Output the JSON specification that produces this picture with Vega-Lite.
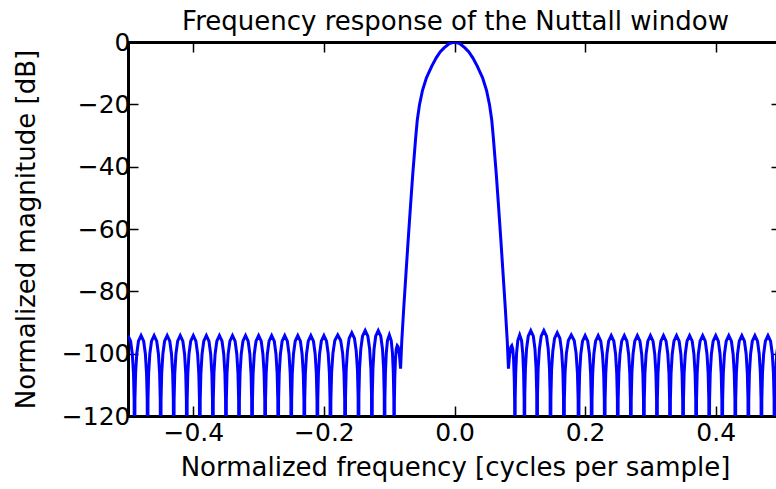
{
  "$schema": "https://vega.github.io/schema/vega-lite/v6.json",
  "width": 648,
  "height": 374,
  "autosize": {"type": "none"},
  "padding": {"left": 128, "top": 42, "right": 0, "bottom": 73},
  "background": "white",
  "config": {
    "view": {"stroke": null},
    "axis": {"domainColor": "black", "domainWidth": 3, "domainCap": "square", "tickColor": "black", "tickWidth": 1.5, "labelFont": "DejaVu Sans", "labelFontSize": 25, "labelColor": "black", "titleFont": "DejaVu Sans", "titleFontSize": 26, "titleFontWeight": "normal", "titleColor": "black", "grid": false}
  },
  "data": {"values": [
    {"f":-0.5,"db":-94.2},{"f":-0.496,"db":-96},{"f":-0.4934,"db":-100.1},{"f":-0.4916,"db":-106.3},{"f":-0.4906,"db":-114.7},{"f":-0.49,"db":-160},
    {"f":-0.4894,"db":-114.7},{"f":-0.4884,"db":-106.3},{"f":-0.4866,"db":-100.1},{"f":-0.484,"db":-96},{"f":-0.48,"db":-94.2},{"f":-0.476,"db":-96},{"f":-0.4734,"db":-100.1},{"f":-0.4716,"db":-106.3},{"f":-0.4706,"db":-114.7},{"f":-0.47,"db":-160},
    {"f":-0.4694,"db":-114.7},{"f":-0.4684,"db":-106.3},{"f":-0.4666,"db":-100.1},{"f":-0.464,"db":-96},{"f":-0.46,"db":-94.2},{"f":-0.456,"db":-96},{"f":-0.4534,"db":-100.1},{"f":-0.4516,"db":-106.3},{"f":-0.4506,"db":-114.7},{"f":-0.45,"db":-160},
    {"f":-0.4494,"db":-114.7},{"f":-0.4484,"db":-106.3},{"f":-0.4466,"db":-100.1},{"f":-0.444,"db":-96},{"f":-0.44,"db":-94.2},{"f":-0.436,"db":-96},{"f":-0.4334,"db":-100.1},{"f":-0.4316,"db":-106.3},{"f":-0.4306,"db":-114.7},{"f":-0.43,"db":-160},
    {"f":-0.4294,"db":-114.7},{"f":-0.4284,"db":-106.3},{"f":-0.4266,"db":-100.1},{"f":-0.424,"db":-96},{"f":-0.42,"db":-94.2},{"f":-0.416,"db":-96},{"f":-0.4134,"db":-100.1},{"f":-0.4116,"db":-106.3},{"f":-0.4106,"db":-114.7},{"f":-0.41,"db":-160},
    {"f":-0.4094,"db":-114.7},{"f":-0.4084,"db":-106.3},{"f":-0.4066,"db":-100.1},{"f":-0.404,"db":-96},{"f":-0.4,"db":-94.2},{"f":-0.396,"db":-96},{"f":-0.3934,"db":-100.1},{"f":-0.3916,"db":-106.3},{"f":-0.3906,"db":-114.7},{"f":-0.39,"db":-160},
    {"f":-0.3894,"db":-114.7},{"f":-0.3884,"db":-106.3},{"f":-0.3866,"db":-100.1},{"f":-0.384,"db":-96},{"f":-0.38,"db":-94.2},{"f":-0.376,"db":-96},{"f":-0.3734,"db":-100.1},{"f":-0.3716,"db":-106.3},{"f":-0.3706,"db":-114.7},{"f":-0.37,"db":-160},
    {"f":-0.3694,"db":-114.7},{"f":-0.3684,"db":-106.3},{"f":-0.3666,"db":-100.1},{"f":-0.364,"db":-96},{"f":-0.36,"db":-94.2},{"f":-0.356,"db":-96},{"f":-0.3534,"db":-100.1},{"f":-0.3516,"db":-106.3},{"f":-0.3506,"db":-114.7},{"f":-0.35,"db":-160},
    {"f":-0.3494,"db":-114.7},{"f":-0.3484,"db":-106.3},{"f":-0.3466,"db":-100.1},{"f":-0.344,"db":-96},{"f":-0.34,"db":-94.2},{"f":-0.336,"db":-96},{"f":-0.3334,"db":-100.1},{"f":-0.3316,"db":-106.3},{"f":-0.3306,"db":-114.7},{"f":-0.33,"db":-160},
    {"f":-0.3294,"db":-114.7},{"f":-0.3284,"db":-106.3},{"f":-0.3266,"db":-100.1},{"f":-0.324,"db":-96},{"f":-0.32,"db":-94.2},{"f":-0.316,"db":-96},{"f":-0.3134,"db":-100.1},{"f":-0.3116,"db":-106.3},{"f":-0.3106,"db":-114.7},{"f":-0.31,"db":-160},
    {"f":-0.3094,"db":-114.7},{"f":-0.3084,"db":-106.3},{"f":-0.3066,"db":-100.1},{"f":-0.304,"db":-96},{"f":-0.3,"db":-94.2},{"f":-0.296,"db":-96},{"f":-0.2934,"db":-100.1},{"f":-0.2916,"db":-106.3},{"f":-0.2906,"db":-114.7},{"f":-0.29,"db":-160},
    {"f":-0.2894,"db":-114.7},{"f":-0.2884,"db":-106.3},{"f":-0.2866,"db":-100.1},{"f":-0.284,"db":-96},{"f":-0.28,"db":-94.2},{"f":-0.276,"db":-96},{"f":-0.2734,"db":-100.1},{"f":-0.2716,"db":-106.3},{"f":-0.2706,"db":-114.7},{"f":-0.27,"db":-160},
    {"f":-0.2694,"db":-114.7},{"f":-0.2684,"db":-106.3},{"f":-0.2666,"db":-100.1},{"f":-0.264,"db":-96},{"f":-0.26,"db":-94.2},{"f":-0.256,"db":-96},{"f":-0.2534,"db":-100.1},{"f":-0.2516,"db":-106.3},{"f":-0.2506,"db":-114.7},{"f":-0.25,"db":-160},
    {"f":-0.2494,"db":-114.7},{"f":-0.2484,"db":-106.3},{"f":-0.2466,"db":-100.1},{"f":-0.244,"db":-96},{"f":-0.24,"db":-94.2},{"f":-0.236,"db":-96},{"f":-0.2334,"db":-100.1},{"f":-0.2316,"db":-106.3},{"f":-0.2306,"db":-114.7},{"f":-0.23,"db":-160},
    {"f":-0.2294,"db":-114.7},{"f":-0.2284,"db":-106.3},{"f":-0.2266,"db":-100.1},{"f":-0.224,"db":-96},{"f":-0.22,"db":-94.2},{"f":-0.216,"db":-96},{"f":-0.2134,"db":-100.1},{"f":-0.2116,"db":-106.3},{"f":-0.2106,"db":-114.7},{"f":-0.21,"db":-160},
    {"f":-0.2094,"db":-114.7},{"f":-0.2084,"db":-106.3},{"f":-0.2066,"db":-100.1},{"f":-0.204,"db":-96},{"f":-0.2,"db":-94.2},{"f":-0.196,"db":-96},{"f":-0.1934,"db":-100.1},{"f":-0.1916,"db":-106.3},{"f":-0.1906,"db":-114.7},{"f":-0.19,"db":-160},
    {"f":-0.1893,"db":-114.5},{"f":-0.1882,"db":-106.1},{"f":-0.1862,"db":-99.9},{"f":-0.1833,"db":-95.8},{"f":-0.1788,"db":-94},{"f":-0.1743,"db":-95.8},{"f":-0.1713,"db":-99.9},{"f":-0.1693,"db":-106.1},{"f":-0.1682,"db":-114.5},{"f":-0.1675,"db":-160},
    {"f":-0.1669,"db":-113.8},{"f":-0.1659,"db":-105.4},{"f":-0.164,"db":-99.2},{"f":-0.1614,"db":-95.1},{"f":-0.1573,"db":-93.3},{"f":-0.1532,"db":-95.1},{"f":-0.1505,"db":-99.2},{"f":-0.1486,"db":-105.4},{"f":-0.1476,"db":-113.8},{"f":-0.147,"db":-160},
    {"f":-0.1464,"db":-113.1},{"f":-0.1454,"db":-104.7},{"f":-0.1435,"db":-98.5},{"f":-0.1409,"db":-94.4},{"f":-0.1368,"db":-92.6},{"f":-0.1327,"db":-94.4},{"f":-0.13,"db":-98.5},{"f":-0.1281,"db":-104.7},{"f":-0.1271,"db":-113.1},{"f":-0.1265,"db":-160},
    {"f":-0.1259,"db":-113.1},{"f":-0.1249,"db":-104.7},{"f":-0.1232,"db":-98.5},{"f":-0.1207,"db":-94.4},{"f":-0.1168,"db":-92.6},{"f":-0.1129,"db":-94.4},{"f":-0.1103,"db":-98.5},{"f":-0.1086,"db":-104.7},{"f":-0.1076,"db":-113.1},{"f":-0.107,"db":-160},
    {"f":-0.1066,"db":-114.5},{"f":-0.1058,"db":-106.1},{"f":-0.1045,"db":-99.9},{"f":-0.1027,"db":-95.8},{"f":-0.0998,"db":-94},{"f":-0.0969,"db":-95.8},{"f":-0.095,"db":-99.9},{"f":-0.0937,"db":-106.1},{"f":-0.0929,"db":-114.5},{"f":-0.0925,"db":-160},
    {"f":-0.0921,"db":-116},{"f":-0.0915,"db":-108},{"f":-0.0905,"db":-102},{"f":-0.0892,"db":-98.5},{"f":-0.0877,"db":-97.4},{"f":-0.0863,"db":-97.8},{"f":-0.0845,"db":-100},{"f":-0.0826,"db":-104.8},
    {"f":-0.0808,"db":-96.1},{"f":-0.0778,"db":-85.5},{"f":-0.0745,"db":-74.8},{"f":-0.0708,"db":-63},{"f":-0.0672,"db":-52},{"f":-0.0638,"db":-42},{"f":-0.0617,"db":-36.5},{"f":-0.0595,"db":-30.8},{"f":-0.057,"db":-25},{"f":-0.0536,"db":-20.1},{"f":-0.049,"db":-15.5},{"f":-0.043,"db":-11.5},{"f":-0.035,"db":-7.8},{"f":-0.028,"db":-5.1},{"f":-0.022,"db":-3.2},{"f":-0.016,"db":-1.9},{"f":-0.008,"db":-0.5},
    {"f":0,"db":0},
    {"f":0.008,"db":-0.5},{"f":0.016,"db":-1.9},{"f":0.022,"db":-3.2},{"f":0.028,"db":-5.1},{"f":0.035,"db":-7.8},{"f":0.043,"db":-11.5},{"f":0.049,"db":-15.5},{"f":0.0536,"db":-20.1},{"f":0.057,"db":-25},{"f":0.0595,"db":-30.8},{"f":0.0617,"db":-36.5},{"f":0.0638,"db":-42},{"f":0.0672,"db":-52},{"f":0.0708,"db":-63},{"f":0.0745,"db":-74.8},{"f":0.0778,"db":-85.5},{"f":0.0808,"db":-96.1},
    {"f":0.0826,"db":-104.8},{"f":0.0845,"db":-100},{"f":0.0863,"db":-97.8},{"f":0.0877,"db":-97.4},{"f":0.0892,"db":-98.5},{"f":0.0905,"db":-102},{"f":0.0915,"db":-108},{"f":0.0921,"db":-116},{"f":0.0925,"db":-160},
    {"f":0.0929,"db":-114.5},{"f":0.0937,"db":-106.1},{"f":0.095,"db":-99.9},{"f":0.0969,"db":-95.8},{"f":0.0998,"db":-94},{"f":0.1027,"db":-95.8},{"f":0.1045,"db":-99.9},{"f":0.1058,"db":-106.1},{"f":0.1066,"db":-114.5},{"f":0.107,"db":-160},
    {"f":0.1076,"db":-113.1},{"f":0.1086,"db":-104.7},{"f":0.1103,"db":-98.5},{"f":0.1129,"db":-94.4},{"f":0.1168,"db":-92.6},{"f":0.1207,"db":-94.4},{"f":0.1232,"db":-98.5},{"f":0.1249,"db":-104.7},{"f":0.1259,"db":-113.1},{"f":0.1265,"db":-160},
    {"f":0.1271,"db":-113.1},{"f":0.1281,"db":-104.7},{"f":0.13,"db":-98.5},{"f":0.1327,"db":-94.4},{"f":0.1368,"db":-92.6},{"f":0.1409,"db":-94.4},{"f":0.1435,"db":-98.5},{"f":0.1454,"db":-104.7},{"f":0.1464,"db":-113.1},{"f":0.147,"db":-160},
    {"f":0.1476,"db":-113.8},{"f":0.1486,"db":-105.4},{"f":0.1505,"db":-99.2},{"f":0.1532,"db":-95.1},{"f":0.1573,"db":-93.3},{"f":0.1614,"db":-95.1},{"f":0.164,"db":-99.2},{"f":0.1659,"db":-105.4},{"f":0.1669,"db":-113.8},{"f":0.1675,"db":-160},
    {"f":0.1682,"db":-114.5},{"f":0.1693,"db":-106.1},{"f":0.1713,"db":-99.9},{"f":0.1743,"db":-95.8},{"f":0.1788,"db":-94},{"f":0.1833,"db":-95.8},{"f":0.1862,"db":-99.9},{"f":0.1882,"db":-106.1},{"f":0.1893,"db":-114.5},{"f":0.19,"db":-160},
    {"f":0.1906,"db":-114.7},{"f":0.1916,"db":-106.3},{"f":0.1934,"db":-100.1},{"f":0.196,"db":-96},{"f":0.2,"db":-94.2},{"f":0.204,"db":-96},{"f":0.2066,"db":-100.1},{"f":0.2084,"db":-106.3},{"f":0.2094,"db":-114.7},{"f":0.21,"db":-160},
    {"f":0.2106,"db":-114.7},{"f":0.2116,"db":-106.3},{"f":0.2134,"db":-100.1},{"f":0.216,"db":-96},{"f":0.22,"db":-94.2},{"f":0.224,"db":-96},{"f":0.2266,"db":-100.1},{"f":0.2284,"db":-106.3},{"f":0.2294,"db":-114.7},{"f":0.23,"db":-160},
    {"f":0.2306,"db":-114.7},{"f":0.2316,"db":-106.3},{"f":0.2334,"db":-100.1},{"f":0.236,"db":-96},{"f":0.24,"db":-94.2},{"f":0.244,"db":-96},{"f":0.2466,"db":-100.1},{"f":0.2484,"db":-106.3},{"f":0.2494,"db":-114.7},{"f":0.25,"db":-160},
    {"f":0.2506,"db":-114.7},{"f":0.2516,"db":-106.3},{"f":0.2534,"db":-100.1},{"f":0.256,"db":-96},{"f":0.26,"db":-94.2},{"f":0.264,"db":-96},{"f":0.2666,"db":-100.1},{"f":0.2684,"db":-106.3},{"f":0.2694,"db":-114.7},{"f":0.27,"db":-160},
    {"f":0.2706,"db":-114.7},{"f":0.2716,"db":-106.3},{"f":0.2734,"db":-100.1},{"f":0.276,"db":-96},{"f":0.28,"db":-94.2},{"f":0.284,"db":-96},{"f":0.2866,"db":-100.1},{"f":0.2884,"db":-106.3},{"f":0.2894,"db":-114.7},{"f":0.29,"db":-160},
    {"f":0.2906,"db":-114.7},{"f":0.2916,"db":-106.3},{"f":0.2934,"db":-100.1},{"f":0.296,"db":-96},{"f":0.3,"db":-94.2},{"f":0.304,"db":-96},{"f":0.3066,"db":-100.1},{"f":0.3084,"db":-106.3},{"f":0.3094,"db":-114.7},{"f":0.31,"db":-160},
    {"f":0.3106,"db":-114.7},{"f":0.3116,"db":-106.3},{"f":0.3134,"db":-100.1},{"f":0.316,"db":-96},{"f":0.32,"db":-94.2},{"f":0.324,"db":-96},{"f":0.3266,"db":-100.1},{"f":0.3284,"db":-106.3},{"f":0.3294,"db":-114.7},{"f":0.33,"db":-160},
    {"f":0.3306,"db":-114.7},{"f":0.3316,"db":-106.3},{"f":0.3334,"db":-100.1},{"f":0.336,"db":-96},{"f":0.34,"db":-94.2},{"f":0.344,"db":-96},{"f":0.3466,"db":-100.1},{"f":0.3484,"db":-106.3},{"f":0.3494,"db":-114.7},{"f":0.35,"db":-160},
    {"f":0.3506,"db":-114.7},{"f":0.3516,"db":-106.3},{"f":0.3534,"db":-100.1},{"f":0.356,"db":-96},{"f":0.36,"db":-94.2},{"f":0.364,"db":-96},{"f":0.3666,"db":-100.1},{"f":0.3684,"db":-106.3},{"f":0.3694,"db":-114.7},{"f":0.37,"db":-160},
    {"f":0.3706,"db":-114.7},{"f":0.3716,"db":-106.3},{"f":0.3734,"db":-100.1},{"f":0.376,"db":-96},{"f":0.38,"db":-94.2},{"f":0.384,"db":-96},{"f":0.3866,"db":-100.1},{"f":0.3884,"db":-106.3},{"f":0.3894,"db":-114.7},{"f":0.39,"db":-160},
    {"f":0.3906,"db":-114.7},{"f":0.3916,"db":-106.3},{"f":0.3934,"db":-100.1},{"f":0.396,"db":-96},{"f":0.4,"db":-94.2},{"f":0.404,"db":-96},{"f":0.4066,"db":-100.1},{"f":0.4084,"db":-106.3},{"f":0.4094,"db":-114.7},{"f":0.41,"db":-160},
    {"f":0.4106,"db":-114.7},{"f":0.4116,"db":-106.3},{"f":0.4134,"db":-100.1},{"f":0.416,"db":-96},{"f":0.42,"db":-94.2},{"f":0.424,"db":-96},{"f":0.4266,"db":-100.1},{"f":0.4284,"db":-106.3},{"f":0.4294,"db":-114.7},{"f":0.43,"db":-160},
    {"f":0.4306,"db":-114.7},{"f":0.4316,"db":-106.3},{"f":0.4334,"db":-100.1},{"f":0.436,"db":-96},{"f":0.44,"db":-94.2},{"f":0.444,"db":-96},{"f":0.4466,"db":-100.1},{"f":0.4484,"db":-106.3},{"f":0.4494,"db":-114.7},{"f":0.45,"db":-160},
    {"f":0.4506,"db":-114.7},{"f":0.4516,"db":-106.3},{"f":0.4534,"db":-100.1},{"f":0.456,"db":-96},{"f":0.46,"db":-94.2},{"f":0.464,"db":-96},{"f":0.4666,"db":-100.1},{"f":0.4684,"db":-106.3},{"f":0.4694,"db":-114.7},{"f":0.47,"db":-160},
    {"f":0.4706,"db":-114.7},{"f":0.4716,"db":-106.3},{"f":0.4734,"db":-100.1},{"f":0.476,"db":-96},{"f":0.48,"db":-94.2},{"f":0.484,"db":-96},{"f":0.4866,"db":-100.1},{"f":0.4884,"db":-106.3},{"f":0.4894,"db":-114.7},{"f":0.49,"db":-160},
    {"f":0.4906,"db":-114.7},{"f":0.4916,"db":-106.3},{"f":0.4934,"db":-100.1},{"f":0.496,"db":-96},{"f":0.5,"db":-94.2}
  ]},
  "layer": [
    {
      "mark": {"type": "line", "color": "#0000ff", "strokeWidth": 3, "clip": true},
      "encoding": {
        "x": {"field": "f", "type": "quantitative", "scale": {"domain": [-0.5, 0.4923], "nice": false, "zero": false},
              "axis": {"orient": "bottom", "title": "Normalized frequency [cycles per sample]", "titleX": 327, "values": [-0.4, -0.2, 0, 0.2, 0.4], "labelExpr": "replace(format(datum.value, '.1f'), '-', '−')", "tickSize": -10, "labelPadding": 14, "titlePadding": 9}},
        "y": {"field": "db", "type": "quantitative", "scale": {"domain": [-120, 0], "nice": false, "zero": false},
              "axis": {"orient": "left", "title": "Normalized magnitude [dB]", "values": [-120, -100, -80, -60, -40, -20, 0], "labelExpr": "replace(format(datum.value, 'd'), '-', '−')", "tickSize": -10, "labelPadding": 8, "titlePadding": 22}}
      }
    },
    {
      "mark": {"type": "line", "strokeOpacity": 0, "clip": true},
      "encoding": {
        "x": {"field": "f", "type": "quantitative", "axis": {"orient": "top", "title": "Frequency response of the Nuttall window", "titleX": 327, "titleBaseline": "alphabetic", "titlePadding": 12, "labels": false, "values": [-0.4, -0.2, 0, 0.2, 0.4], "tickSize": -10}},
        "y": {"field": "db", "type": "quantitative", "axis": {"orient": "right", "title": null, "labels": false, "domain": false, "values": [-120, -100, -80, -60, -40, -20, 0], "tickSize": -5}}
      }
    }
  ],
  "resolve": {"axis": {"x": "independent", "y": "independent"}}
}
